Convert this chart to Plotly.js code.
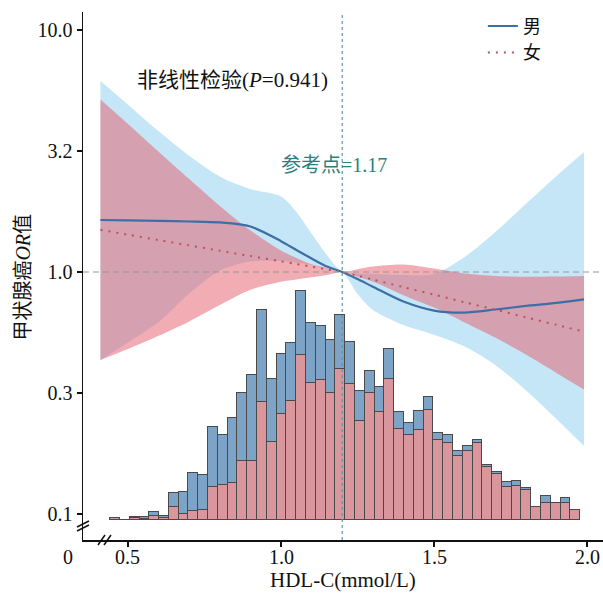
<!DOCTYPE html>
<html>
<head>
<meta charset="utf-8">
<script src="https://cdn.plot.ly/plotly-3.0.1.min.js"></script>
<style>html,body{margin:0;padding:0;background:#fff}#chart{width:603px;height:594px}</style>
</head>
<body>
<div id="chart"></div>
<script>
// ---- curve data (HDL-C grid, OR and 95% CI) ----
var hdl = [0.41, 0.50, 0.60, 0.70, 0.80, 0.90, 1.00, 1.05, 1.10, 1.15, 1.20, 1.25, 1.30, 1.40, 1.50, 1.60, 1.70, 1.80, 1.90, 1.99];
var maleOR    = [1.64, 1.633, 1.625, 1.617, 1.602, 1.542, 1.341, 1.233, 1.137, 1.053, 1.0, 0.935, 0.870, 0.755, 0.693, 0.680, 0.700, 0.724, 0.745, 0.771];
var maleUpper = [6.15, 4.91, 3.81, 3.02, 2.48, 2.20, 2.05, 1.77, 1.44, 1.175, 1.0, 0.986, 0.981, 0.972, 0.981, 1.153, 1.463, 1.91, 2.49, 3.13];
var maleLower = [0.433, 0.512, 0.621, 0.815, 1.015, 1.105, 1.11, 1.094, 1.069, 1.029, 1.0, 0.811, 0.697, 0.604, 0.550, 0.492, 0.413, 0.325, 0.247, 0.191];
var femaleOR    = [1.494, 1.426, 1.355, 1.288, 1.224, 1.164, 1.107, 1.079, 1.052, 1.026, 1.0, 0.965, 0.931, 0.866, 0.806, 0.750, 0.699, 0.650, 0.605, 0.567];
var femaleUpper = [5.16, 4.09, 3.14, 2.42, 1.874, 1.484, 1.226, 1.143, 1.076, 1.036, 1.0, 1.027, 1.054, 1.074, 1.034, 0.986, 0.963, 0.956, 0.958, 0.963];
var femaleLower = [0.433, 0.481, 0.545, 0.625, 0.730, 0.844, 0.911, 0.931, 0.951, 0.972, 1.0, 0.955, 0.913, 0.802, 0.713, 0.619, 0.536, 0.456, 0.383, 0.327];

// ---- histogram data (bin centres, counts) ----
var binCenters = [0.456,0.488,0.520,0.552,0.584,0.616,0.648,0.680,0.712,0.744,0.776,0.808,0.840,0.872,0.904,0.936,0.968,1.000,1.032,1.064,1.096,1.128,1.160,1.192,1.224,1.256,1.288,1.320,1.352,1.384,1.416,1.448,1.480,1.512,1.544,1.576,1.608,1.640,1.672,1.704,1.736,1.768,1.800,1.832,1.864,1.896,1.928,1.960];
var femaleCount = [1.5,0,2,0.5,4,1.7,12.5,5.5,8.5,9.7,33,34.7,36.7,59,58.3,117.3,77.7,105.3,118.7,165,136.3,140,126.7,150.7,135.7,99,126.7,107.3,141,90.7,84.7,90,109.7,79.7,76.7,64,69,76.3,53,45.7,33,33.3,30,12.3,16.7,16.7,16.7,10];
var maleCount   = [0.5,0,0.5,2,4,2,14.3,22.5,38.5,34.5,59.5,50,64.6,67.7,86.4,92.4,63.3,60,58.3,63.3,60.4,54,52.6,54,42,30,22.3,25,30,16.6,11.6,19,13.3,7,8,4.3,4.3,3.4,2,1.6,4.3,5.7,1.7,0,7.3,0,5,0];
var binWidth = 0.032;

// ---- labels ----
var yTickVals = [0.1, 0.31623, 1, 3.1623, 10];
var yTickText = ['0.1', '0.3', '1.0', '3.2', '10.0'];
var xTickVals = [0.5, 1.0, 1.5, 2.0];
var xTickText = ['0.5', '1.0', '1.5', '2.0'];
var refX = 1.2;

var serif = 'Liberation Serif';
var cjkSpan = function (s) { return '<span style="font-family:Noto Sans CJK SC">' + s + '</span>'; };

var blueFill = 'rgba(140,205,240,0.5)';
var redFill = 'rgba(228,95,112,0.52)';
var blueLine = '#3d6fa6';
var redLine = '#c0505a';

var traces = [
  {x: hdl, y: maleLower, mode: 'lines', line: {width: 0, shape: 'spline', smoothing: 0.8}, showlegend: false, hoverinfo: 'skip'},
  {x: hdl, y: maleUpper, mode: 'lines', line: {width: 0, shape: 'spline', smoothing: 0.8}, fill: 'tonexty', fillcolor: blueFill, showlegend: false, hoverinfo: 'skip'},
  {x: hdl, y: femaleLower, mode: 'lines', line: {width: 0, shape: 'spline', smoothing: 0.8}, showlegend: false, hoverinfo: 'skip'},
  {x: hdl, y: femaleUpper, mode: 'lines', line: {width: 0, shape: 'spline', smoothing: 0.8}, fill: 'tonexty', fillcolor: redFill, showlegend: false, hoverinfo: 'skip'},
  {type: 'bar', x: binCenters, y: femaleCount, width: binWidth, yaxis: 'y2', marker: {color: '#d9969d', line: {color: '#4a4a4a', width: 1}}, showlegend: false},
  {type: 'bar', x: binCenters, y: maleCount, width: binWidth, yaxis: 'y2', marker: {color: '#7da3c6', line: {color: '#4a4a4a', width: 1}}, showlegend: false},
  {x: hdl, y: maleOR, mode: 'lines', name: '男', line: {color: blueLine, width: 2.2, shape: 'spline', smoothing: 0.8}},
  {x: hdl, y: femaleOR, mode: 'lines', name: '女', line: {color: redLine, width: 2, dash: '2px,6px', shape: 'spline', smoothing: 0.8}}
];

var annotations = [
  {xref: 'paper', yref: 'paper', x: -0.0288, y: 0, xanchor: 'center', yanchor: 'top', yshift: -4, showarrow: false, text: '0', font: {family: serif, size: 20, color: '#111'}},
  {xref: 'paper', yref: 'paper', x: 0.5, y: -0.076, xanchor: 'center', yanchor: 'middle', showarrow: false, text: 'HDL-C(mmol/L)', font: {family: serif, size: 21, color: '#111'}},
  {xref: 'paper', yref: 'paper', x: 0.2875, y: 0.875, xanchor: 'center', yanchor: 'middle', showarrow: false, text: cjkSpan('非线性检验') + '(<i>P</i>=0.941)', font: {family: serif, size: 21, color: '#111'}},
  {xref: 'paper', yref: 'paper', x: 0.4827, y: 0.714, xanchor: 'center', yanchor: 'middle', showarrow: false, text: cjkSpan('参考点') + '=1.17', font: {family: serif, size: 20, color: '#2b7f80'}},
  {xref: 'paper', yref: 'paper', x: -0.1173, y: 0.497, xanchor: 'center', yanchor: 'middle', textangle: -90, showarrow: false, text: cjkSpan('甲状腺癌') + '<i>OR</i>' + cjkSpan('值'), font: {family: serif, size: 20, color: '#111'}}
];
// x tick labels placed through the x scale
xTickVals.forEach(function (v, i) {
  annotations.push({xref: 'x', yref: 'paper', x: v, y: 0, xanchor: 'center', yanchor: 'top', yshift: -4, showarrow: false, text: xTickText[i], font: {family: serif, size: 20, color: '#111'}});
});

var layout = {
  width: 603, height: 594,
  margin: {l: 83, r: 0, t: 12, b: 54},
  paper_bgcolor: '#fff', plot_bgcolor: '#fff',
  barmode: 'stack', bargap: 0,
  showlegend: true,
  legend: {x: 0.769, y: 1.008, xanchor: 'left', yanchor: 'top', traceorder: 'normal', font: {family: 'Noto Sans CJK SC', size: 18, color: '#111'}, bgcolor: 'rgba(0,0,0,0)', tracegroupgap: 0, itemwidth: 30},
  xaxis: {
    range: [0.353, 2.052], tickvals: xTickVals, showticklabels: false,
    ticks: 'outside', ticklen: 5, tickwidth: 1.2, tickcolor: '#111',
    showline: true, linecolor: '#111', linewidth: 1.5, showgrid: false, zeroline: false
  },
  yaxis: {
    type: 'log', range: [-1.107, 1.074], tickvals: yTickVals, ticktext: yTickText,
    ticks: 'outside', ticklen: 5, tickwidth: 1.2, tickcolor: '#111',
    showline: true, linecolor: '#111', linewidth: 1.5, showgrid: false, zeroline: false,
    tickfont: {family: serif, size: 20, color: '#111'}
  },
  yaxis2: {overlaying: 'y', range: [-21, 507], visible: false, showgrid: false, zeroline: false},
  shapes: [
    {type: 'line', xref: 'paper', x0: 0, x1: 1, yref: 'y', y0: 1, y1: 1, line: {color: 'rgb(150,150,150)', width: 1.2, dash: '6px,4px'}, layer: 'above'},
    {type: 'line', xref: 'x', x0: refX, x1: refX, yref: 'paper', y0: 0, y1: 1, line: {color: 'rgb(95,150,160)', width: 1.2, dash: '3px,3px'}, layer: 'above'},
    // axis-break marks
    {type: 'line', xref: 'paper', yref: 'paper', x0: -0.0115, y0: 0.017, x1: 0.0115, y1: 0.0284, line: {color: '#111', width: 1.5}},
    {type: 'line', xref: 'paper', yref: 'paper', x0: -0.0115, y0: 0.0246, x1: 0.0115, y1: 0.036, line: {color: '#111', width: 1.5}},
    {type: 'line', xref: 'paper', yref: 'paper', x0: 0.0288, y0: -0.0095, x1: 0.0423, y1: 0.0095, line: {color: '#111', width: 1.5}},
    {type: 'line', xref: 'paper', yref: 'paper', x0: 0.0404, y0: -0.0095, x1: 0.0538, y1: 0.0095, line: {color: '#111', width: 1.5}}
  ],
  annotations: annotations
};

Plotly.newPlot('chart', traces, layout, {staticPlot: true, displayModeBar: false});
</script>
</body>
</html>
